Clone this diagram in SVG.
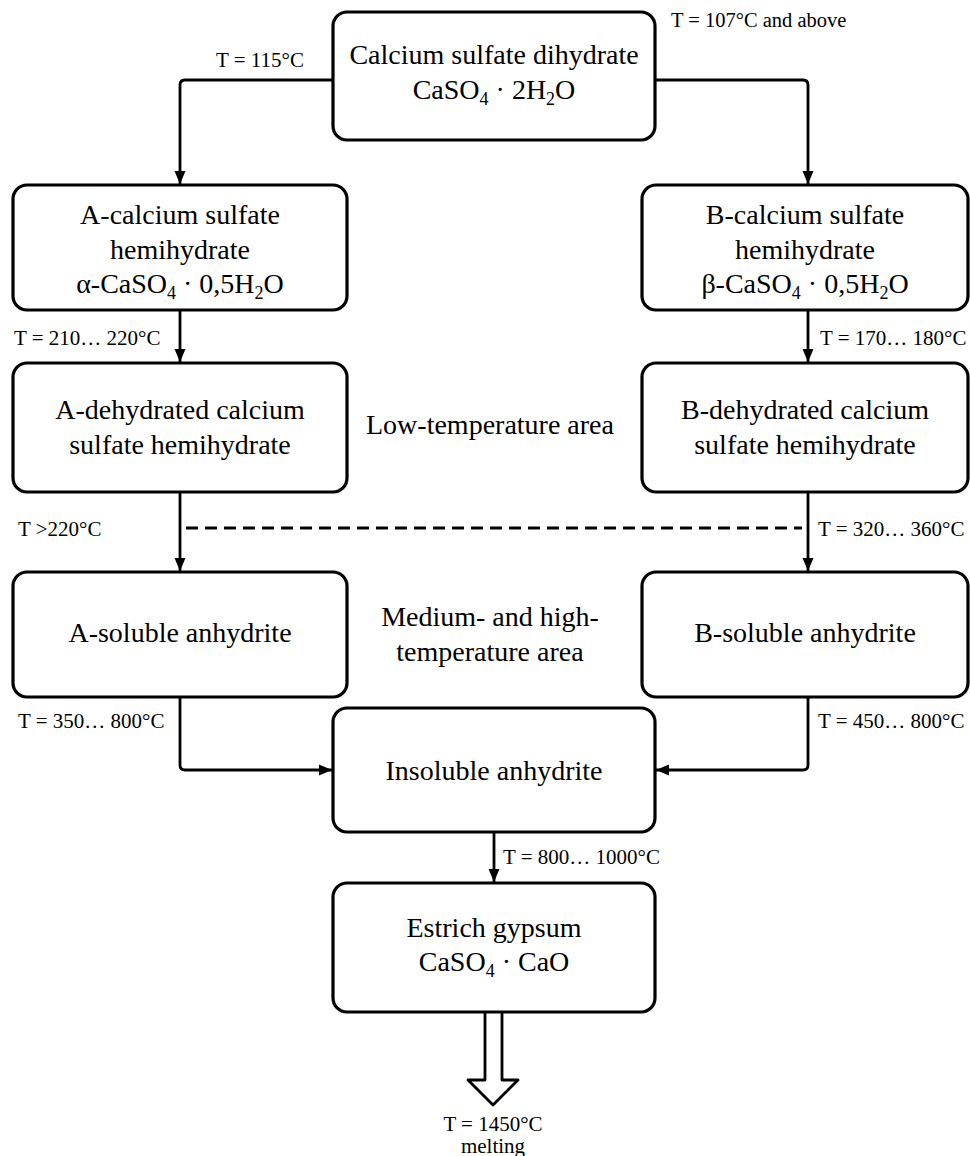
<svg xmlns="http://www.w3.org/2000/svg" width="970" height="1156" viewBox="0 0 970 1156">
<defs>
<marker id="ah" markerUnits="userSpaceOnUse" markerWidth="14" markerHeight="14" viewBox="0 0 14 14" refX="13" refY="7" orient="auto">
<path d="M0,1.5 L13,7 L0,12.5 Z" fill="#000"/>
</marker>
<style>
.box{fill:#fff;stroke:#000;stroke-width:3.2}
.ln{fill:none;stroke:#000;stroke-width:2.8;stroke-linejoin:round}
.dash{fill:none;stroke:#000;stroke-width:2.8;stroke-dasharray:12 7}
.t{font-family:"Liberation Serif","Times New Roman",serif;font-size:28px;text-anchor:middle;fill:#000}
.s{font-family:"Liberation Serif","Times New Roman",serif;font-size:21px;fill:#000}
.sm{font-size:20.5px}
.sub{font-size:18px}
</style>
</defs>
<rect width="970" height="1156" fill="#fff"/>

<g id="connectors">
<path class="ln" d="M333,80 H185 Q180,80 180,85 V184" marker-end="url(#ah)"/>
<path class="ln" d="M655,80 H803 Q808,80 808,85 V184" marker-end="url(#ah)"/>
<path class="ln" d="M180,310 V362" marker-end="url(#ah)"/>
<path class="ln" d="M808,310 V362" marker-end="url(#ah)"/>
<path class="ln" d="M180,492 V571" marker-end="url(#ah)"/>
<path class="ln" d="M808,492 V571" marker-end="url(#ah)"/>
<path class="dash" d="M186,528 H802"/>
<path class="ln" d="M180,697 V765 Q180,770 185,770 H332" marker-end="url(#ah)"/>
<path class="ln" d="M808,697 V765 Q808,770 803,770 H656" marker-end="url(#ah)"/>
<path class="ln" d="M494,832 V882" marker-end="url(#ah)"/>
<path class="ln" d="M485,1012 V1080 H468 L493,1105 L518,1080 H502 V1012"/>
</g>

<g id="n-dihydrate">
<rect class="box" x="333" y="12" width="322" height="128" rx="14"/>
<text class="t" x="494" y="64">Calcium sulfate dihydrate</text>
<text class="t" x="494" y="99">CaSO<tspan class="sub" dy="6">4</tspan><tspan dy="-6"> · 2H</tspan><tspan class="sub" dy="6">2</tspan><tspan dy="-6">O</tspan></text>
</g>

<g id="n-a-hemi">
<rect class="box" x="13" y="185" width="334" height="125" rx="14"/>
<text class="t" x="180" y="224">A-calcium sulfate</text>
<text class="t" x="180" y="259">hemihydrate</text>
<text class="t" x="180" y="293">α-CaSO<tspan class="sub" dy="6">4</tspan><tspan dy="-6"> · 0,5H</tspan><tspan class="sub" dy="6">2</tspan><tspan dy="-6">O</tspan></text>
</g>

<g id="n-b-hemi">
<rect class="box" x="642" y="185" width="326" height="125" rx="14"/>
<text class="t" x="805" y="224">B-calcium sulfate</text>
<text class="t" x="805" y="259">hemihydrate</text>
<text class="t" x="805" y="293">β-CaSO<tspan class="sub" dy="6">4</tspan><tspan dy="-6"> · 0,5H</tspan><tspan class="sub" dy="6">2</tspan><tspan dy="-6">O</tspan></text>
</g>

<g id="n-a-dehyd">
<rect class="box" x="13" y="363" width="334" height="129" rx="14"/>
<text class="t" x="180" y="419">A-dehydrated calcium</text>
<text class="t" x="180" y="454">sulfate hemihydrate</text>
</g>

<g id="n-b-dehyd">
<rect class="box" x="642" y="363" width="326" height="129" rx="14"/>
<text class="t" x="805" y="419">B-dehydrated calcium</text>
<text class="t" x="805" y="454">sulfate hemihydrate</text>
</g>

<g id="n-a-sol">
<rect class="box" x="13" y="572" width="334" height="125" rx="14"/>
<text class="t" x="180" y="642">A-soluble anhydrite</text>
</g>

<g id="n-b-sol">
<rect class="box" x="642" y="572" width="326" height="125" rx="14"/>
<text class="t" x="805" y="642">B-soluble anhydrite</text>
</g>

<g id="n-insol">
<rect class="box" x="333" y="708" width="322" height="124" rx="14"/>
<text class="t" x="494" y="780">Insoluble anhydrite</text>
</g>

<g id="n-estrich">
<rect class="box" x="333" y="883" width="322" height="129" rx="14"/>
<text class="t" x="494" y="937">Estrich gypsum</text>
<text class="t" x="494" y="971">CaSO<tspan class="sub" dy="6">4</tspan><tspan dy="-6"> · CaO</tspan></text>
</g>

<g id="areas">
<text class="t" x="490" y="434">Low-temperature area</text>
<text class="t" x="490" y="626">Medium- and high-</text>
<text class="t" x="490" y="661">temperature area</text>
</g>

<g id="labels">
<text class="s" x="216" y="67">T = 115°C</text>
<text class="s sm" x="671" y="27">T = 107°C and above</text>
<text class="s" x="14" y="345">T = 210… 220°C</text>
<text class="s" x="820" y="345">T = 170… 180°C</text>
<text class="s" x="18" y="536">T &gt;220°C</text>
<text class="s" x="818" y="536">T = 320… 360°C</text>
<text class="s" x="18" y="728">T = 350… 800°C</text>
<text class="s" x="818" y="728">T = 450… 800°C</text>
<text class="s" x="503" y="864">T = 800… 1000°C</text>
<text class="s" x="493" y="1131" text-anchor="middle">T = 1450°C</text>
<text class="s" x="493" y="1153" text-anchor="middle">melting</text>
</g>
</svg>
